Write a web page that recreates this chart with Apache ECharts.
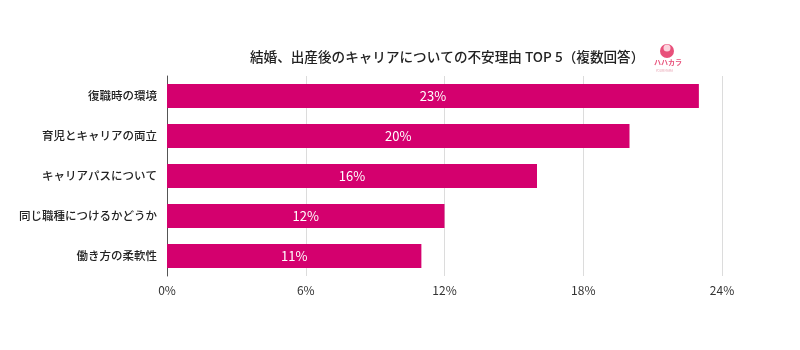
<!DOCTYPE html>
<html>
<head>
<meta charset="utf-8">
<script src="https://cdn.jsdelivr.net/npm/echarts@6/dist/echarts.min.js"></script>
<style>
html,body{margin:0;padding:0;background:#fff;}
#chart{width:800px;height:350px;}
</style>
</head>
<body>
<div id="chart"></div>
<script>
// Reasons for career anxiety after marriage / childbirth (multiple answers)
const categories = ['復職時の環境', '育児とキャリアの両立', 'キャリアパスについて', '同じ職種につけるかどうか', '働き方の柔軟性'];
const values = [23, 20, 16, 12, 11];
const xTicks = [0, 6, 12, 18, 24];

const FONT = '"Noto Sans CJK JP", "Noto Sans", sans-serif';
const chart = echarts.init(document.getElementById('chart'));
chart.setOption({
  animation: false,
  textStyle: { fontFamily: FONT },
  title: {
    text: '結婚、出産後のキャリアについての不安理由 TOP 5（複数回答）',
    left: 245, top: 45,
    textStyle: { fontSize: 13.6, fontWeight: 500, color: '#222', fontFamily: FONT }
  },
  graphic: [
    { type: 'circle', shape: { cx: 667, cy: 51, r: 7 }, style: { fill: '#e8507a' } },
    { type: 'circle', shape: { cx: 667, cy: 48, r: 3.5 }, style: { fill: '#fbd3dd' } },
    { type: 'text', left: 654, top: 59, style: { text: 'ハハカラ', fontSize: 7, fontWeight: 'bold', fill: '#e8507a', fontFamily: FONT } },
    { type: 'text', left: 656, top: 69, style: { text: 'YOUR MAMA', fontSize: 3, fill: '#e8a0b0', fontFamily: FONT } }
  ],
  grid: { left: 167, right: 78, top: 76, bottom: 74, containLabel: false },
  xAxis: {
    type: 'value', min: xTicks[0], max: xTicks[xTicks.length - 1], interval: 6,
    axisLine: { show: false },
    axisTick: { show: false },
    splitLine: { show: true, lineStyle: { color: '#dcdcdc', width: 1 } },
    axisLabel: { formatter: '{value}%', color: '#333', fontSize: 12, margin: 8, fontFamily: FONT }
  },
  yAxis: {
    type: 'category', data: categories, inverse: true,
    axisLine: { show: true, lineStyle: { color: '#555', width: 1 } },
    axisTick: { show: false },
    axisLabel: { color: '#222', fontSize: 11.5, fontWeight: 500, margin: 10, fontFamily: FONT }
  },
  series: [{
    type: 'bar', data: values, barWidth: 24,
    itemStyle: { color: '#d4006e' },
    label: { show: true, position: 'inside', formatter: '{c}%', color: '#fff', fontSize: 13, fontFamily: FONT }
  }]
});
</script>
</body>
</html>
